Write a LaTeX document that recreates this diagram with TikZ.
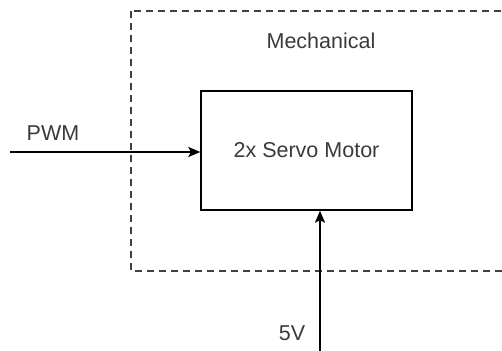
\documentclass[tikz,border=0pt]{standalone}
\usepackage{fontspec}
\setmainfont{Liberation Sans}
\usetikzlibrary{arrows.meta}
\definecolor{txt}{HTML}{3A3A3A}
\tikzset{
  lbl/.style={text=txt,font=\fontsize{21.5}{25}\selectfont,inner sep=0pt},
  conn/.style={line width=1.4pt,-{Stealth[length=12pt,width=10pt,inset=2.5pt]}},
  groupbox/.style={draw=black!75,line width=1.3pt,dash pattern=on 7pt off 5pt},
  blockbox/.style={draw=black,line width=1.4pt,minimum width=211pt,minimum height=119pt,inner sep=0pt}
}
\begin{document}
\begin{tikzpicture}[x=1pt,y=-1pt]
\useasboundingbox (0,0) rectangle (502,350);
\clip (0,0) rectangle (502,350);
\draw[groupbox] (131,11) rectangle (530,271);
\node[blockbox,lbl] (servo) at (306.5,150.5) {2x Servo Motor};
\node[lbl] (mech) at (321,41) {Mechanical};
\node[lbl] (pwm) at (53,133) {PWM};
\node[lbl] (fivev) at (292,333) {5V};
\coordinate (pwmstart) at (10,152);
\coordinate (vstart) at (320,352);
\draw[conn] (pwmstart) -- (pwmstart -| servo.west);
\draw[conn] (vstart) -- (vstart |- servo.south);
\end{tikzpicture}
\end{document}
